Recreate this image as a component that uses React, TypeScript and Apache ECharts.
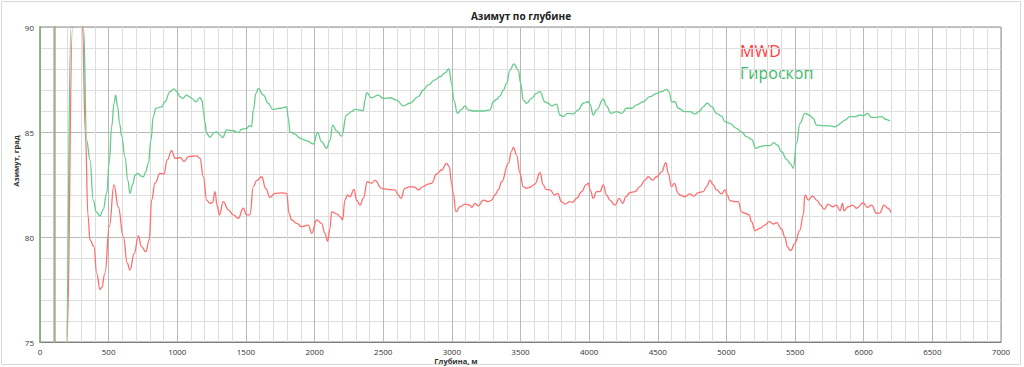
import React, { useEffect, useRef } from "react";
import * as echarts from "echarts";

const TITLE = "Азимут по глубине";
const X_NAME = "Глубина, м";
const Y_NAME = "Азимут, град";
const SERIES_NAMES = ["MWD", "Гироскоп"];

const X_MIN = 0;
const X_MAX = 7000;
const X_STEP = 500;
const Y_MIN = 75;
const Y_MAX = 90;
const Y_STEP = 5;

const mwdDepth = [0, 0, 109, 109, 193, 196, 237, 260, 290, 310, 330, 350, 364, 393, 413, 437, 450, 473, 505, 539, 570, 607, 636, 655, 687, 716, 740, 770, 796, 813, 838, 874, 903, 927, 959, 983, 1000, 1020, 1051, 1080, 1141, 1165, 1190, 1214, 1238, 1257, 1275, 1290, 1306, 1335, 1372, 1408, 1444, 1481, 1505, 1529, 1554, 1578, 1615, 1644, 1675, 1712, 1760, 1797, 1814, 1833, 1870, 1906, 1955, 1979, 2015, 2051, 2076, 2095, 2112, 2124, 2161, 2190, 2204, 2221, 2240, 2258, 2287, 2306, 2331, 2355, 2384, 2415, 2440, 2488, 2537, 2586, 2610, 2629, 2658, 2695, 2731, 2755, 2792, 2828, 2853, 2889, 2925, 2962, 2981, 2998, 3010, 3030, 3059, 3095, 3132, 3144, 3168, 3192, 3229, 3265, 3290, 3314, 3338, 3363, 3411, 3436, 3448, 3472, 3496, 3520, 3545, 3569, 3605, 3642, 3666, 3685, 3714, 3751, 3770, 3799, 3824, 3860, 3878, 3909, 3945, 3977, 3994, 4010, 4030, 4054, 4079, 4103, 4127, 4151, 4188, 4219, 4244, 4268, 4297, 4334, 4370, 4407, 4431, 4462, 4492, 4528, 4559, 4576, 4600, 4620, 4649, 4661, 4698, 4734, 4763, 4795, 4831, 4856, 4880, 4904, 4928, 4965, 4989, 5006, 5025, 5062, 5086, 5110, 5135, 5166, 5183, 5208, 5244, 5280, 5312, 5341, 5366, 5402, 5426, 5443, 5468, 5499, 5535, 5560, 5572, 5597, 5627, 5657, 5686, 5713, 5741, 5773, 5802, 5827, 5846, 5856, 5887, 5919, 5948, 5996, 6026, 6057, 6094, 6118, 6147, 6177, 6198];
const mwdAzimuth = [0, 360, 360, 0, 0, 75, 90, 96, 95, 90, 85, 81, 79.86, 79.54, 78.27, 77.5, 77.6, 78.27, 80.49, 82.48, 81.44, 80.01, 78.75, 78.43, 79.22, 80.05, 79.54, 79.3, 79.86, 81.76, 82.56, 83.03, 83.0, 83.67, 84.11, 83.75, 83.75, 83.79, 83.59, 83.83, 83.86, 83.75, 82.87, 81.76, 81.6, 81.65, 82.16, 81.5, 81.05, 81.68, 81.29, 81.05, 80.89, 81.37, 81.05, 81.05, 82.4, 82.68, 82.87, 82.32, 81.89, 82.08, 82.1, 82.08, 81.13, 80.81, 80.65, 80.49, 80.57, 80.17, 80.81, 80.65, 80.17, 79.8, 80.4, 81.2, 81.1, 80.95, 80.81, 81.76, 82.0, 81.92, 82.27, 81.76, 81.52, 81.84, 82.63, 82.56, 82.7, 82.32, 82.27, 82.24, 82.0, 81.84, 82.32, 82.4, 82.37, 82.24, 82.4, 82.52, 82.56, 83.0, 83.19, 83.51, 83.35, 82.56, 82.08, 81.2, 81.44, 81.57, 81.52, 81.41, 81.6, 81.48, 81.76, 81.68, 81.76, 82.0, 82.24, 82.63, 83.51, 84.1, 84.27, 83.9, 83.03, 82.4, 82.32, 82.37, 82.52, 83.06, 82.48, 82.27, 82.24, 82.0, 82.08, 81.68, 81.57, 81.68, 81.65, 81.84, 82.16, 82.48, 82.56, 82.2, 81.84, 82.16, 82.16, 82.48, 82.0, 81.76, 81.52, 81.84, 81.6, 81.92, 82.11, 82.16, 82.4, 82.71, 82.87, 82.71, 82.87, 83.1, 83.54, 83.03, 82.4, 82.55, 82.08, 82.0, 81.92, 82.05, 81.95, 82.11, 82.16, 82.4, 82.71, 82.48, 82.24, 82.05, 82.24, 82.0, 81.73, 81.68, 81.68, 81.2, 81.13, 81.05, 80.73, 80.3, 80.41, 80.57, 80.73, 80.62, 80.68, 80.37, 79.99, 79.54, 79.35, 79.7, 80.33, 81.05, 82.0, 81.76, 81.95, 81.76, 81.52, 81.32, 81.57, 81.44, 81.52, 81.25, 81.6, 81.25, 81.44, 81.52, 81.37, 81.63, 81.41, 81.52, 81.13, 81.15, 81.52, 81.37, 81.16];

const gyroDepth = [0, 0, 104, 104, 188, 191, 226, 250, 290, 317, 340, 364, 388, 410, 437, 460, 486, 505, 522, 540, 551, 565, 580, 595, 619, 640, 655, 675, 692, 716, 735, 753, 770, 789, 808, 825, 845, 886, 910, 947, 976, 1000, 1020, 1040, 1068, 1085, 1105, 1136, 1165, 1180, 1190, 1200, 1214, 1238, 1267, 1286, 1311, 1330, 1360, 1408, 1444, 1469, 1505, 1525, 1541, 1554, 1573, 1590, 1627, 1663, 1694, 1748, 1797, 1809, 1821, 1857, 1894, 1942, 1991, 2022, 2051, 2088, 2112, 2132, 2161, 2197, 2233, 2270, 2294, 2355, 2367, 2379, 2415, 2464, 2500, 2549, 2598, 2646, 2695, 2755, 2792, 2828, 2877, 2913, 2950, 2979, 2998, 3015, 3040, 3071, 3095, 3120, 3156, 3229, 3278, 3302, 3326, 3350, 3375, 3399, 3423, 3452, 3484, 3501, 3520, 3545, 3581, 3617, 3642, 3678, 3702, 3727, 3763, 3787, 3812, 3841, 3884, 3921, 3957, 3994, 4006, 4030, 4054, 4103, 4127, 4157, 4200, 4237, 4273, 4309, 4346, 4394, 4443, 4492, 4528, 4564, 4583, 4600, 4625, 4649, 4698, 4734, 4771, 4807, 4831, 4860, 4892, 4928, 4965, 4989, 5025, 5074, 5110, 5147, 5183, 5215, 5244, 5280, 5317, 5346, 5370, 5402, 5438, 5468, 5487, 5511, 5535, 5572, 5603, 5632, 5657, 5705, 5754, 5790, 5815, 5839, 5863, 5899, 5936, 5972, 6001, 6026, 6057, 6094, 6130, 6162, 6191];
const gyroAzimuth = [0, 360, 360, 0, 0, 75, 90, 96, 96, 90, 84.6, 83.67, 81.76, 81.2, 81.0, 81.3, 82.1, 83.6, 85.25, 86.4, 86.76, 86.2, 85.4, 84.8, 83.8, 82.7, 82.08, 82.5, 82.95, 83.03, 82.9, 82.87, 83.1, 83.5, 84.6, 85.73, 86.13, 86.2, 86.44, 86.92, 87.05, 86.9, 86.68, 86.6, 86.76, 86.7, 86.6, 86.44, 86.65, 86.5, 86.05, 85.5, 84.94, 84.75, 84.97, 85.0, 84.86, 84.73, 85.1, 85.06, 84.97, 85.13, 85.17, 85.3, 85.25, 86.05, 86.84, 87.08, 86.76, 86.36, 86.08, 86.13, 86.2, 85.65, 85.0, 84.9, 84.7, 84.59, 84.43, 84.97, 84.54, 84.22, 84.6, 85.33, 85.05, 84.8, 85.81, 85.97, 86.08, 86.02, 86.52, 86.87, 86.63, 86.76, 86.6, 86.63, 86.52, 86.24, 86.37, 86.68, 87.0, 87.24, 87.48, 87.63, 87.82, 88.0, 87.32, 86.52, 85.89, 86.08, 86.24, 86.05, 86.0, 86.0, 86.05, 86.44, 86.56, 86.71, 87.0, 87.32, 87.95, 88.24, 87.95, 87.32, 86.52, 86.37, 86.6, 86.84, 86.92, 86.44, 86.37, 86.24, 86.33, 85.81, 85.73, 85.89, 85.86, 86.05, 86.37, 86.44, 86.33, 85.81, 86.05, 86.56, 86.24, 85.89, 85.97, 85.89, 86.13, 86.13, 86.29, 86.44, 86.68, 86.84, 86.92, 87.03, 86.9, 86.44, 86.44, 86.13, 85.97, 85.97, 85.86, 86.0, 86.21, 86.37, 86.21, 85.89, 85.76, 85.49, 85.41, 85.17, 85.0, 84.78, 84.65, 84.22, 84.3, 84.35, 84.35, 84.49, 84.38, 84.06, 83.7, 83.48, 83.27, 84.46, 85.41, 85.89, 85.81, 85.65, 85.33, 85.3, 85.29, 85.25, 85.33, 85.46, 85.57, 85.73, 85.73, 85.81, 85.78, 85.89, 85.7, 85.7, 85.73, 85.6, 85.52];

const pairs = (xs: number[], ys: number[]) => xs.map((x, i) => [x, ys[i]]);

export default function App() {
  const ref = useRef<HTMLDivElement>(null);
  useEffect(() => {
    if (!ref.current) return;
    const chart = echarts.init(ref.current, null, { renderer: "svg" });
    const font = "'Open Sans', 'Noto Sans', sans-serif";
    const plain = (v: number) => String(v);
    chart.setOption({
      animation: false,
      backgroundColor: "#ffffff",
      grid: {
        left: 40,
        right: 23,
        top: 27,
        bottom: 25,
        show: true,
        borderColor: "#8a8a8a",
        borderWidth: 1,
        backgroundColor: "transparent",
      },
      xAxis: {
        type: "value",
        min: X_MIN,
        max: X_MAX,
        interval: X_STEP,
        axisLine: { show: true, lineStyle: { color: "#808080" } },
        axisTick: { show: false },
        axisLabel: { fontSize: 8, color: "#333", margin: 5, fontFamily: font, formatter: plain },
        splitLine: { show: true, lineStyle: { color: "#b8b8b8", width: 1 } },
        minorTick: { show: false, splitNumber: 5 },
        minorSplitLine: { show: true, lineStyle: { color: "#dedede", width: 1 } },
      },
      yAxis: {
        type: "value",
        min: Y_MIN,
        max: Y_MAX,
        interval: Y_STEP,
        axisLine: { show: true, lineStyle: { color: "#808080" } },
        axisTick: { show: false },
        axisLabel: { fontSize: 8, color: "#333", margin: 6, fontFamily: font, formatter: plain },
        splitLine: { show: true, lineStyle: { color: "#b8b8b8", width: 1 } },
        minorTick: { show: false, splitNumber: 5 },
        minorSplitLine: { show: true, lineStyle: { color: "#dedede", width: 1 } },
      },
      series: [
        {
          name: SERIES_NAMES[0],
          type: "line",
          data: pairs(mwdDepth, mwdAzimuth),
          showSymbol: false,
          smooth: 0.45,
          smoothMonotone: "x",
          lineStyle: { color: "#ff6f6f", width: 1.3 },
          itemStyle: { color: "#ff6f6f" },
          clip: true,
        },
        {
          name: SERIES_NAMES[1],
          type: "line",
          data: pairs(gyroDepth, gyroAzimuth),
          showSymbol: false,
          smooth: 0.45,
          smoothMonotone: "x",
          lineStyle: { color: "#66cc8c", width: 1.3 },
          itemStyle: { color: "#66cc8c" },
          clip: true,
        },
      ],
      graphic: [
        {
          type: "rect",
          shape: { x: 1.5, y: 1.5, width: 1019, height: 363 },
          style: { fill: "none", stroke: "#d9d9d9", lineWidth: 1 },
          silent: true,
        },
        {
          type: "text",
          x: 521,
          y: 16,
          style: {
            text: TITLE,
            font: `bold 10px ${font}`,
            fill: "#222",
            align: "center",
            verticalAlign: "middle",
          },
        },
        {
          type: "text",
          x: 456,
          y: 361,
          style: {
            text: X_NAME,
            font: `bold 7.5px ${font}`,
            fill: "#333",
            align: "center",
            verticalAlign: "middle",
          },
        },
        {
          type: "text",
          x: 16,
          y: 161,
          rotation: Math.PI / 2,
          style: {
            text: Y_NAME,
            font: `bold 7.5px ${font}`,
            fill: "#333",
            align: "center",
            verticalAlign: "middle",
          },
        },
        {
          type: "text",
          x: 740,
          y: 51,
          style: {
            text: SERIES_NAMES[0],
            font: `16px ${font}`,
            fill: "#ff3b3b",
            align: "left",
            verticalAlign: "middle",
          },
        },
        {
          type: "text",
          x: 740,
          y: 73,
          style: {
            text: SERIES_NAMES[1],
            font: `16px ${font}`,
            fill: "#3cb96a",
            align: "left",
            verticalAlign: "middle",
          },
        },
      ],
    });
    return () => chart.dispose();
  }, []);
  return (
    <div
      ref={ref}
      style={{ position: "fixed", left: 0, top: 0, width: 1024, height: 367 }}
    />
  );
}
